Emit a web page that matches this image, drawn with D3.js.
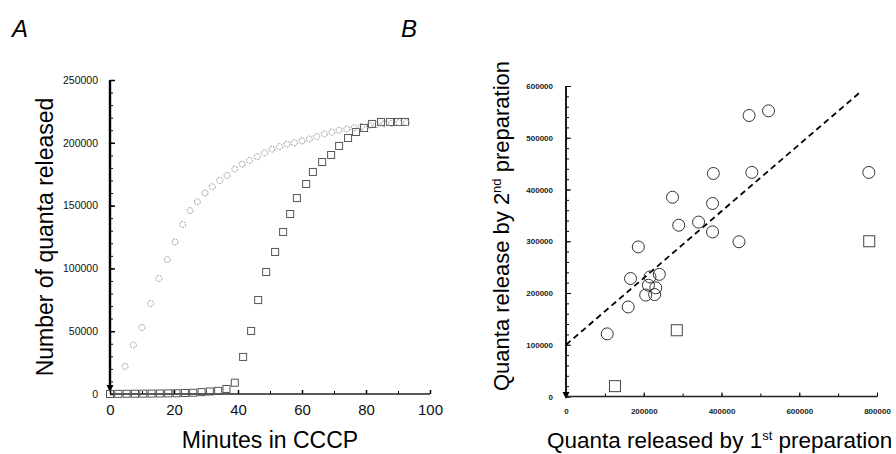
<!DOCTYPE html>
<html>
<head>
<meta charset="utf-8">
<script src="https://cdn.jsdelivr.net/npm/d3@7"></script>
<style>
  body { margin: 0; background: #fff; }
  svg { display: block; font-family: "Liberation Sans", Arial, sans-serif; }
</style>
</head>
<body>
<div class="figure"></div>
<script>
const width = 896
const height = 454

// panel A: cumulative quanta vs minutes in CCCP
const circleMinutes = [4.7, 7.3, 10.0, 12.7, 15.3, 17.9, 20.3, 22.7, 25.0, 27.3, 29.7, 32.0, 34.3, 36.6, 39.0, 41.3, 43.6, 46.0, 48.3, 50.6, 53.0, 55.3, 57.6, 60.0, 62.3, 64.6, 67.0, 69.3, 71.6, 74.0, 76.3, 78.6, 81.0, 83.3, 85.6, 88.0, 90.3, 92.6]
const circleQuanta = [22000, 39000, 53000, 72000, 92000, 107000, 121000, 135000, 146000, 153000, 160000, 165000, 170000, 174000, 179000, 183000, 186000, 189000, 192000, 195000, 197000, 199000, 200000, 201500, 203000, 205000, 207000, 208500, 210000, 211000, 212000, 213000, 214000, 214500, 215000, 215500, 216000, 216000]

const squareMinutes = [0, 2.6, 5.2, 7.8, 10.4, 13.0, 15.6, 18.2, 20.8, 23.4, 26.0, 28.6, 31.2, 33.8, 36.4, 39.0, 41.6, 44.1, 46.3, 48.8, 51.6, 54.1, 56.3, 58.4, 61.3, 63.4, 66.3, 69.1, 71.6, 74.4, 76.9, 79.4, 81.9, 84.7, 87.5, 90.0, 92.2]
const squareQuanta = [0, 100, 200, 200, 300, 300, 400, 500, 600, 800, 1000, 1500, 2000, 2500, 4000, 9000, 29500, 50200, 74800, 97100, 113100, 129000, 143300, 156000, 167200, 176800, 184700, 190300, 197500, 203800, 208600, 211800, 215000, 216600, 216600, 216600, 216600]

const aYTicks = [0, 50000, 100000, 150000, 200000, 250000]
const aXTicks = [0, 20, 40, 60, 80, 100]

// panel B: first vs second preparation
const prep1Circle = [471000, 521000, 379000, 478000, 779000, 274000, 377000, 290000, 341000, 377000, 445000, 186000, 166000, 216000, 240000, 212000, 231000, 205000, 228000, 160000, 106000]
const prep2Circle = [543000, 552000, 431000, 433000, 433000, 385000, 373000, 331000, 337000, 318000, 299000, 289000, 228000, 231000, 236000, 215000, 210000, 196000, 197000, 173000, 121000]
const prep1Square = [780000, 285000, 126000]
const prep2Square = [300000, 128000, 20000]
const fitX = [0, 758000]
const fitIntercept = 100000
const fitSlope = 0.645

const bYTicks = [0, 100000, 200000, 300000, 400000, 500000, 600000]
const bXTicks = [0, 200000, 400000, 600000, 800000]

const svg = d3.select(".figure").append("svg")
    .attr("width", width)
    .attr("height", height)

svg.append("rect").attr("width", width).attr("height", height).attr("fill", "#fff")

// panel letters
svg.append("text").attr("x", 12).attr("y", 37).text("A")
    .style("font-size", "24px").style("font-style", "italic")
svg.append("text").attr("x", 401).attr("y", 37).text("B")
    .style("font-size", "24px").style("font-style", "italic")

function arrowDown(g, x, yTip) {
    g.append("path")
        .attr("d", `M${x - 3.5},${yTip - 7}L${x + 3.5},${yTip - 7}L${x},${yTip}Z`)
        .attr("fill", "#000")
}

// ---------- panel A ----------
const xA = d3.scaleLinear().domain([0, 100]).range([110, 430])
const yA = d3.scaleLinear().domain([0, 250000]).range([394, 80])

const gA = svg.append("g")

// minor ticks
gA.append("g").attr("transform", "translate(110,0)")
    .call(d3.axisLeft(yA).tickValues(d3.range(0, 250001, 10000)).tickSize(-3).tickFormat(""))
    .call(g => g.select(".domain").remove())
gA.append("g").attr("transform", "translate(0,394)")
    .call(d3.axisBottom(xA).tickValues(d3.range(0, 101, 10)).tickSize(-3).tickFormat(""))
    .call(g => g.select(".domain").remove())

const yAxisA = gA.append("g").attr("transform", "translate(110,0)")
    .call(d3.axisLeft(yA).tickValues(aYTicks).tickSize(-5).tickPadding(12).tickFormat(d3.format("d")))
yAxisA.select(".domain").remove()
yAxisA.selectAll("text").style("font-size", "10.5px").attr("fill", "#111")
yAxisA.selectAll("line").attr("stroke-width", 1.5)

const xAxisA = gA.append("g").attr("transform", "translate(0,394)")
    .call(d3.axisBottom(xA).tickValues(aXTicks).tickSize(-4).tickPadding(10))
xAxisA.select(".domain").remove()
xAxisA.selectAll("text").style("font-size", "15px").attr("fill", "#111")
xAxisA.selectAll("line").attr("stroke-width", 1.5)

gA.append("line").attr("x1", xA(0)).attr("x2", xA(100)).attr("y1", yA(0)).attr("y2", yA(0))
    .attr("stroke", "#222").attr("stroke-width", 1.3)
gA.append("line").attr("x1", xA(0)).attr("x2", xA(0)).attr("y1", yA(250000)).attr("y2", yA(0) - 4)
    .attr("stroke", "#000").attr("stroke-width", 2.4)
arrowDown(gA, xA(0), 392)

gA.selectAll(".aSquare")
    .data(squareMinutes.map((t, i) => [t, squareQuanta[i]]))
    .enter()
    .append("rect")
    .attr("class", "aSquare")
    .attr("x", d => xA(d[0]) - 3.5)
    .attr("y", d => yA(d[1]) - 3.5)
    .attr("width", 7)
    .attr("height", 7)
    .attr("fill", "none")
    .attr("stroke", "#555")
    .attr("stroke-width", 1)

gA.selectAll(".aCircle")
    .data(circleMinutes.map((t, i) => [t, circleQuanta[i]]))
    .enter()
    .append("circle")
    .attr("class", "aCircle")
    .attr("cx", d => xA(d[0]))
    .attr("cy", d => yA(d[1]))
    .attr("r", 3)
    .attr("fill", "none")
    .attr("stroke", "#999")
    .attr("stroke-width", 1)
    .attr("stroke-dasharray", "2,1")

gA.append("text")
    .attr("transform", "translate(53,237) rotate(-90)")
    .attr("text-anchor", "middle")
    .style("font-size", "23px")
    .text("Number of quanta released")

gA.append("text")
    .attr("x", 270).attr("y", 448)
    .attr("text-anchor", "middle")
    .style("font-size", "23px")
    .text("Minutes in CCCP")

// ---------- panel B ----------
const xB = d3.scaleLinear().domain([0, 800000]).range([566, 877])
const yB = d3.scaleLinear().domain([0, 600000]).range([396.5, 86])

const gB = svg.append("g")

gB.append("g").attr("transform", "translate(566,0)")
    .call(d3.axisLeft(yB).tickValues(d3.range(0, 600001, 20000)).tickSize(-3).tickFormat(""))
    .call(g => g.select(".domain").remove())
gB.append("g").attr("transform", "translate(0,396.5)")
    .call(d3.axisBottom(xB).tickValues(d3.range(0, 800001, 100000)).tickSize(-3).tickFormat(""))
    .call(g => g.select(".domain").remove())

const yAxisB = gB.append("g").attr("transform", "translate(566,0)")
    .call(d3.axisLeft(yB).tickValues(bYTicks).tickSize(-5).tickPadding(13).tickFormat(d3.format("d")))
yAxisB.select(".domain").remove()
yAxisB.selectAll("text").style("font-size", "8px").style("font-weight", "bold").attr("fill", "#222")

const xAxisB = gB.append("g").attr("transform", "translate(0,396.5)")
    .call(d3.axisBottom(xB).tickValues(bXTicks).tickSize(-4).tickPadding(12).tickFormat(d3.format("d")))
xAxisB.select(".domain").remove()
xAxisB.selectAll("text").style("font-size", "8px").style("font-weight", "bold").attr("fill", "#222")

gB.append("line").attr("x1", xB(0)).attr("x2", xB(800000)).attr("y1", yB(0)).attr("y2", yB(0))
    .attr("stroke", "#222").attr("stroke-width", 1.3)
gB.append("line").attr("x1", xB(0)).attr("x2", xB(0)).attr("y1", yB(600000)).attr("y2", yB(0) - 4)
    .attr("stroke", "#000").attr("stroke-width", 1.8)
arrowDown(gB, xB(0), 399)

gB.append("line")
    .attr("x1", xB(fitX[0])).attr("y1", yB(fitIntercept + fitSlope * fitX[0]))
    .attr("x2", xB(fitX[1])).attr("y2", yB(fitIntercept + fitSlope * fitX[1]))
    .attr("stroke", "#000")
    .attr("stroke-width", 1.8)
    .attr("stroke-dasharray", "6,4")

gB.selectAll(".bCircle")
    .data(prep1Circle.map((x, i) => [x, prep2Circle[i]]))
    .enter()
    .append("circle")
    .attr("class", "bCircle")
    .attr("cx", d => xB(d[0]))
    .attr("cy", d => yB(d[1]))
    .attr("r", 6)
    .attr("fill", "none")
    .attr("stroke", "#333")
    .attr("stroke-width", 1)

gB.selectAll(".bSquare")
    .data(prep1Square.map((x, i) => [x, prep2Square[i]]))
    .enter()
    .append("rect")
    .attr("class", "bSquare")
    .attr("x", d => xB(d[0]) - 5.5)
    .attr("y", d => yB(d[1]) - 5.5)
    .attr("width", 11)
    .attr("height", 11)
    .attr("fill", "none")
    .attr("stroke", "#444")
    .attr("stroke-width", 1)

const yLabelB = gB.append("text")
    .attr("transform", "translate(509,226) rotate(-90)")
    .attr("text-anchor", "middle")
    .style("font-size", "22px")
yLabelB.append("tspan").text("Quanta release by 2")
yLabelB.append("tspan").attr("dy", -8).style("font-size", "13px").text("nd")
yLabelB.append("tspan").attr("dy", 8).text(" preparation")

const xLabelB = gB.append("text")
    .attr("x", 547).attr("y", 448)
    .style("font-size", "22.5px")
xLabelB.append("tspan").text("Quanta released by 1")
xLabelB.append("tspan").attr("dy", -8).style("font-size", "13px").text("st")
xLabelB.append("tspan").attr("dy", 8).text(" preparation")
</script>
</body>
</html>
